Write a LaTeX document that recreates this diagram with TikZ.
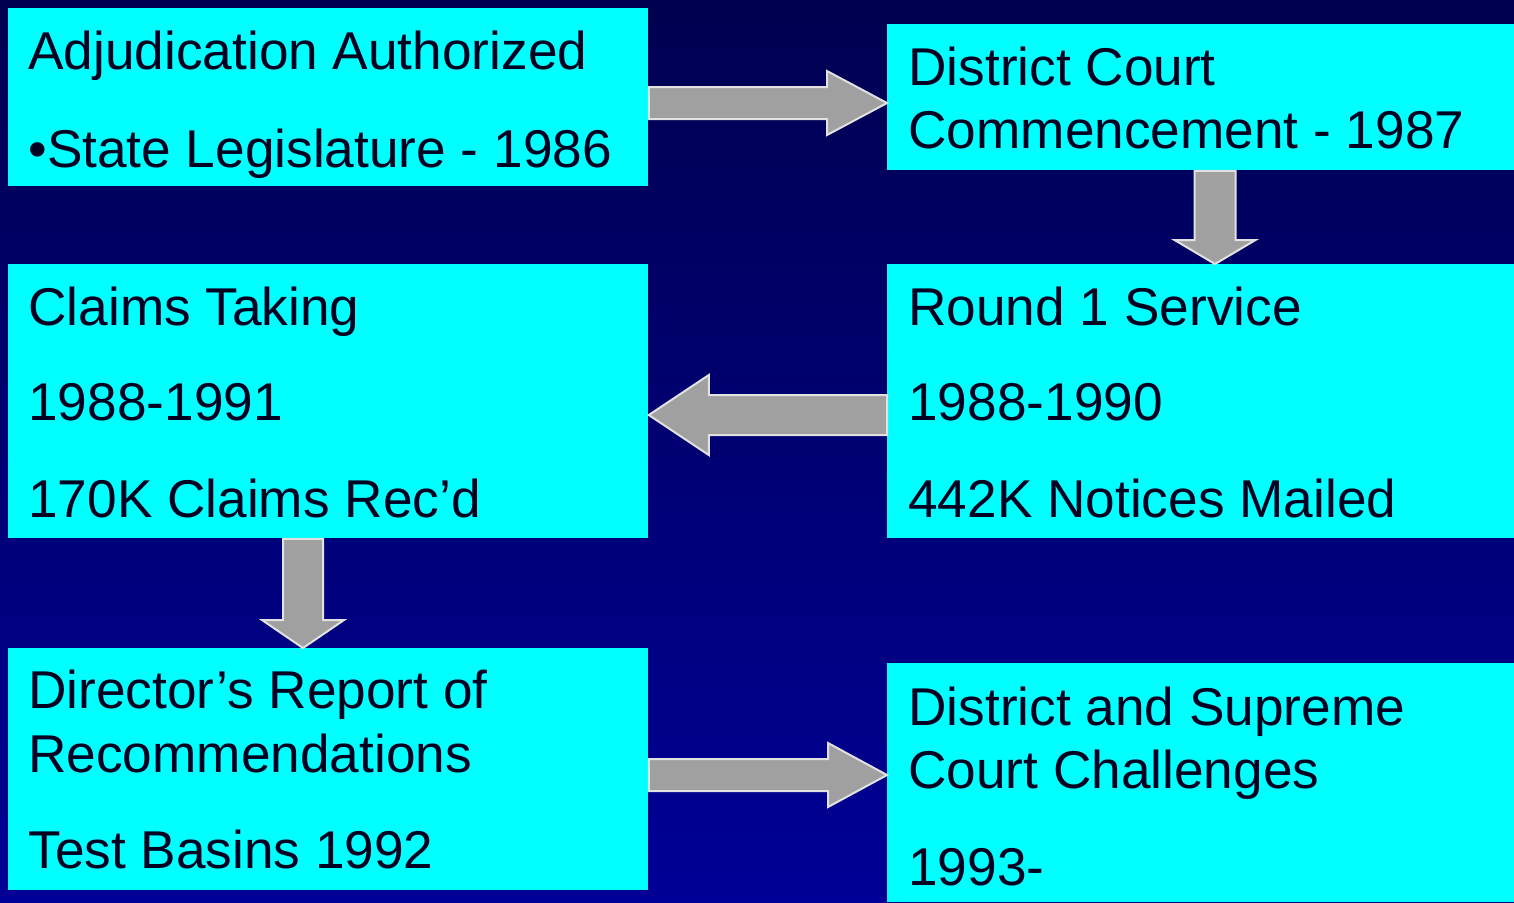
\documentclass[tikz,border=0pt]{standalone}
\usepackage{xcolor}
\usepackage{fontspec}
\setmainfont{Liberation Sans}
\usetikzlibrary{calc}

\definecolor{bgtop}{RGB}{0,0,80}
\definecolor{bgbottom}{RGB}{0,0,150}
\definecolor{boxcyan}{RGB}{0,255,255}
\definecolor{inkblue}{RGB}{0,0,32}
\definecolor{arrowgray}{RGB}{160,160,160}
\definecolor{arrowrim}{RGB}{225,225,225}

% block arrow: start, tip, shaft half width, head half width, head length
\newcommand{\blockarrow}[5]{%
  \coordinate (ba) at #1;
  \coordinate (bb) at #2;
  \coordinate (bh) at ($(bb)!#5!(ba)$);
  \draw[grayarrow] ($(ba)!#3!90:(bb)$) -- ($(bh)!#3!90:(bb)$) -- ($(bh)!#4!90:(bb)$)
    -- (bb) -- ($(bh)!#4!-90:(bb)$) -- ($(bh)!#3!-90:(bb)$) -- ($(ba)!#3!-90:(bb)$) -- cycle;
}

\begin{document}
\begin{tikzpicture}[
  x=0.5pt, y=-0.5pt,
  box/.style={fill=boxcyan, draw=none, inner sep=0pt, anchor=north west},
  line/.style={anchor=base west, inner sep=0pt, text=inkblue,
    font=\fontsize{26.6}{32}\selectfont},
  grayarrow/.style={fill=arrowgray, draw=arrowrim, line width=1pt, line join=miter}
]
\useasboundingbox (0,0) rectangle (1514,902);
\shade[top color=bgtop, bottom color=bgbottom] (0,0) rectangle (1514,902);

% boxes
\node[box, minimum width=320pt, minimum height=89pt] (auth) at (8,8) {};
\node[box, minimum width=313.5pt, minimum height=73pt] (court) at (887,24) {};
\node[box, minimum width=320pt, minimum height=137pt] (claims) at (8,264) {};
\node[box, minimum width=313.5pt, minimum height=137pt] (round) at (887,264) {};
\node[box, minimum width=320pt, minimum height=121pt] (report) at (8,648) {};
\node[box, minimum width=313.5pt, minimum height=119.5pt] (challenge) at (887,663) {};

% texts
\node[line] (auth1) at (28,69) {Adjudication Authorized};
\node[line] (auth2) at (28,167) {•State Legislature - 1986};
\node[line] (court1) at (908,85) {District Court};
\node[line] (court2) at (908,148) {Commencement - 1987};
\node[line] (claims1) at (28,325) {Claims Taking};
\node[line] (claims2) at (28,420) {1988-1991};
\node[line] (claims3) at (28,517) {170K Claims Rec’d};
\node[line] (round1) at (908,325) {Round 1 Service};
\node[line] (round2) at (908,420) {1988-1990};
\node[line] (round3) at (908,517) {442K Notices Mailed};
\node[line] (report1) at (28,708) {Director’s Report of};
\node[line] (report2) at (28,772) {Recommendations};
\node[line] (report3) at (28,868) {Test Basins 1992};
\node[line] (challenge1) at (908,725) {District and Supreme};
\node[line] (challenge2) at (908,788) {Court Challenges};
\node[line] (challenge3) at (908,885) {1993-};

% arrows
\blockarrow{(auth.east |- 0,103)}{(court.west |- 0,103)}{8pt}{16pt}{30pt}
\blockarrow{(court.south -| 1215,0)}{(round.north -| 1215,0)}{10.25pt}{20.25pt}{12pt}
\blockarrow{(round.west |- 0,415)}{(claims.east |- 0,415)}{10pt}{20pt}{30pt}
\blockarrow{(claims.south -| 303,0)}{(report.north -| 303,0)}{10pt}{20.5pt}{14pt}
\blockarrow{(report.east |- 0,775)}{(challenge.west |- 0,775)}{8pt}{16pt}{29.5pt}
\end{tikzpicture}
\end{document}
